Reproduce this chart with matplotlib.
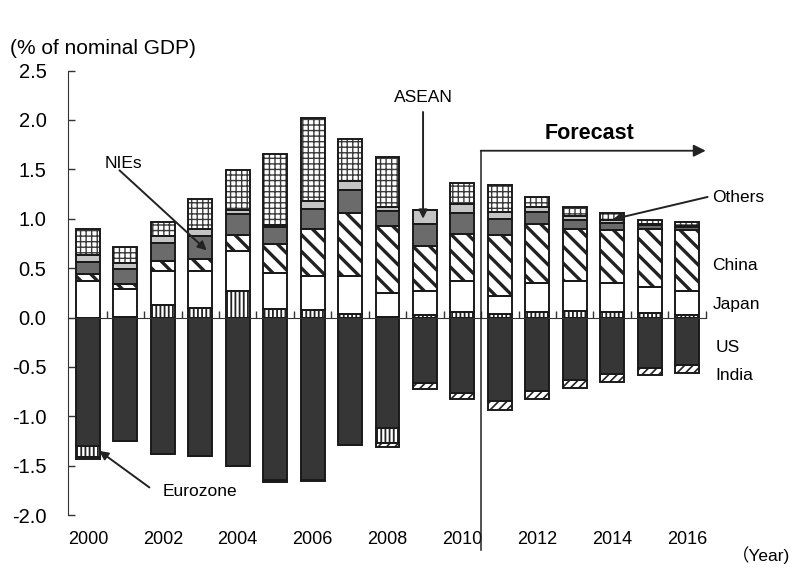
import numpy as np
import matplotlib
matplotlib.use('Agg')
import matplotlib.pyplot as plt

# contributions, % of nominal GDP
years = list(range(2000, 2017))
year_labels = [str(y) for y in range(2000, 2017, 2)]

euro_pos = [0.00, 0.01, 0.13, 0.10, 0.27, 0.09, 0.08, 0.035, 0.01, 0.025, 0.055, 0.04, 0.06, 0.07, 0.06, 0.05, 0.025]
japan = [0.37, 0.28, 0.34, 0.37, 0.40, 0.36, 0.345, 0.38, 0.24, 0.245, 0.31, 0.18, 0.29, 0.30, 0.29, 0.255, 0.245]
china = [0.07, 0.05, 0.10, 0.12, 0.16, 0.29, 0.47, 0.64, 0.68, 0.45, 0.48, 0.62, 0.60, 0.525, 0.54, 0.59, 0.615]
nies = [0.125, 0.155, 0.18, 0.23, 0.22, 0.18, 0.20, 0.24, 0.15, 0.225, 0.215, 0.16, 0.12, 0.095, 0.065, 0.04, 0.03]
asean = [0.07, 0.06, 0.07, 0.08, 0.035, 0.02, 0.085, 0.09, 0.04, 0.145, 0.085, 0.07, 0.05, 0.035, 0.03, 0.015, 0.015]
others = [0.26, 0.16, 0.145, 0.30, 0.405, 0.71, 0.84, 0.42, 0.50, 0.0, 0.22, 0.27, 0.10, 0.095, 0.075, 0.035, 0.035]

us = [-1.30, -1.245, -1.385, -1.40, -1.50, -1.645, -1.64, -1.29, -1.115, -0.66, -0.76, -0.845, -0.74, -0.635, -0.575, -0.51, -0.48]
euro_neg = [-0.115, 0, 0, 0, 0, -0.012, 0, 0, -0.16, 0, 0, 0, 0, 0, 0, 0, 0]
india = [-0.015, 0, 0, 0, 0, -0.01, -0.01, -0.005, -0.035, -0.06, -0.065, -0.095, -0.08, -0.08, -0.075, -0.075, -0.085]

FONT = ['Liberation Sans', 'DejaVu Sans']
plt.rcParams['font.family'] = FONT
plt.rcParams['font.size'] = 12.5

x = np.array(years, dtype=float)
W = 0.64


def stack(ax, vals, base, face, hatch=None, hcolor='black', hlw=1.0):
    vals = np.array(vals, dtype=float)
    bars = ax.bar(x, vals, W, bottom=base, color=face, hatch=hatch,
                  edgecolor=hcolor, linewidth=0, zorder=2)
    if hatch:
        for b in bars:
            if hasattr(b, 'set_hatch_linewidth'):
                b.set_hatch_linewidth(hlw)
    ax.bar(x, vals, W, bottom=base, facecolor='none', edgecolor='#1a1a1a',
           linewidth=1.4, zorder=3)
    return base + vals


fig = plt.figure(figsize=(7.92, 5.72), dpi=100)
ax = fig.add_axes([68 / 792, 1 - 515.1 / 572, (705.7 - 68) / 792, (515.1 - 70.5) / 572])

plt.rcParams['hatch.linewidth'] = 1.0
pos = np.zeros(len(x))
pos = stack(ax, euro_pos, pos, 'white', '||||', '#222222', 1.3)
pos = stack(ax, japan, pos, 'white')
pos = stack(ax, china, pos, 'white', '\\\\', '#222222', 2.4)
pos = stack(ax, nies, pos, '#6b6b6b')
pos = stack(ax, asean, pos, '#c4c4c4')
pos = stack(ax, others, pos, 'white', '+++', '#3a3a3a', 1.0)

neg = np.zeros(len(x))
neg = stack(ax, us, neg, '#363636')
neg = stack(ax, euro_neg, neg, 'white', '||||', '#222222', 1.3)
neg = stack(ax, india, neg, 'white', '////', '#222222', 1.2)

ax.set_xlim(1999.466, 2016.5)
ax.set_ylim(-2.0, 2.5)
ax.set_yticks(np.arange(-2.0, 2.51, 0.5))
ax.set_yticklabels([f'{v:.1f}' for v in np.arange(-2.0, 2.51, 0.5)], fontsize=14.5)
ax.tick_params(axis='y', direction='in', length=5, width=1, pad=15.5, color='#333333')

ax.spines['top'].set_visible(False)
ax.spines['right'].set_visible(False)
ax.spines['bottom'].set_position(('data', 0))
ax.spines['bottom'].set_zorder(4)
ax.spines['left'].set_color('#333333')
ax.spines['bottom'].set_color('#333333')
ax.set_xticks(x + 0.5)
ax.tick_params(axis='x', direction='in', length=5, width=1, labelbottom=False, color='#333333')

for lab in year_labels:
    ax.text(int(lab), -2.25, lab, ha='center', va='center', fontsize=13, clip_on=False)

fig.text(10 / 792, 1 - 48 / 572, '(% of nominal GDP)', ha='left', va='center', fontsize=15)
fig.text(790 / 792, 1 - 555 / 572, '（Year)', ha='right', va='center', fontsize=12.5,
         family=['Liberation Sans', 'Noto Sans CJK JP'])

# forecast marker
ax.plot([2010.49, 2010.49], [-2.35, 1.688], color='#222222', lw=1.1, clip_on=False, zorder=5)
ax.annotate('', xy=(2016.5, 1.688), xytext=(2010.49, 1.688),
            arrowprops=dict(arrowstyle='-|>', color='#222222', lw=1.3, mutation_scale=18,
                            shrinkA=0, shrinkB=0),
            annotation_clip=False)
ax.text(2013.4, 1.86, 'Forecast', ha='center', va='center', fontsize=15.5, fontweight='bold')

arrow = dict(arrowstyle='-|>', color='#222222', lw=1.4, mutation_scale=13, shrinkA=0, shrinkB=0)
ax.text(2008.95, 2.23, 'ASEAN', ha='center', va='center')
ax.annotate('', xy=(2008.95, 1.0), xytext=(2008.95, 2.08), arrowprops=arrow)
ax.text(2000.95, 1.56, 'NIEs', ha='center', va='center')
ax.annotate('', xy=(2003.17, 0.68), xytext=(2000.84, 1.49), arrowprops=arrow)
ax.text(2002.0, -1.766, 'Eurozone', ha='left', va='center')
ax.annotate('', xy=(2000.30, -1.35), xytext=(2001.64, -1.72), arrowprops=arrow)
ax.text(2016.67, 1.21, 'Others', ha='left', va='center', clip_on=False)
ax.annotate('', xy=(2014.03, 0.995), xytext=(2016.55, 1.22), arrowprops=arrow,
            annotation_clip=False)

for name, yv, xv in [('China', 0.53, 2016.67), ('Japan', 0.127, 2016.7),
                     ('US', -0.30, 2016.77), ('India', -0.59, 2016.77)]:
    ax.text(xv, yv, name, ha='left', va='center', clip_on=False)

fig.savefig('out.png', dpi=100)
